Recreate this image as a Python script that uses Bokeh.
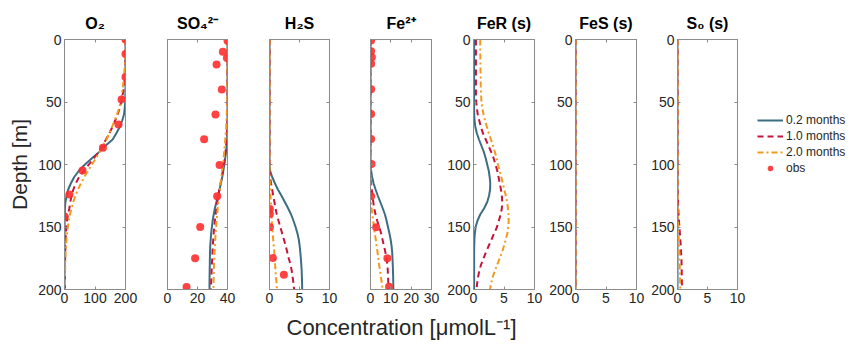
from bokeh.plotting import figure
from bokeh.layouts import row, column
from bokeh.models import Range1d, FixedTicker, LinearAxis, Legend, LegendItem, Label
from bokeh.embed import file_html
from bokeh.resources import INLINE

# ---------------- data ----------------
depth = list(range(0, 205, 5))  # 0..200 m, 41 levels

# O2
o2_02 = [200, 200, 200, 200, 200, 200, 200, 200, 200, 199.5, 199, 197.5, 195, 189, 181, 170, 158, 134,
         114, 90, 67, 47, 32, 21, 12, 7, 3, 1.5, 1, 0.5, 0.3, 0.3, 0.3, 0.3, 0.3, 0.3, 0.3, 0.3, 0.3, 0.3, 0.3]
o2_10 = [200, 200, 200, 200, 199.5, 199, 198, 196.5, 194, 190, 186, 181, 174, 166, 157, 147, 136, 124,
         112, 96, 80, 63, 48, 37, 29, 23, 19, 16, 11, 8, 6, 4.5, 3.5, 3, 2.5, 2, 1.8, 1.5, 1.3, 1.2, 1]
o2_20 = [200, 200, 200, 199, 198, 196.5, 195, 193, 190, 188, 185, 179, 172, 164, 156, 147, 138, 126,
         115, 103, 90, 77, 65, 54, 44, 36, 29, 23, 18, 14, 11, 8.5, 6.5, 5, 4, 3, 2.5, 2, 1.7, 1.4, 1.2]
o2_obs_x = [200, 200, 200, 187, 177, 126, 59, 16, 0]
o2_obs_z = [0, 11.5, 30, 48, 68, 86.5, 104.8, 124, 141.5]

# SO4 2-
so4_02 = [40, 40, 40, 40, 40, 40, 40, 40, 40, 40, 40, 40, 40, 40, 40, 39.9, 39.7, 39.4, 39, 38.5, 37.9,
          37.2, 36.5, 35.6, 34.7, 33.7, 32.6, 31.6, 30.8, 30.1, 29.6, 29.1, 28.8, 28.5, 28.35, 28.25,
          28.2, 28.1, 28.05, 28.0, 28.0]
so4_10 = [40, 40, 40, 40, 40, 40, 40, 40, 40, 40, 40, 40, 40, 39.9, 39.8, 39.6, 39.4, 39.1, 38.7, 38.2,
          37.6, 36.9, 36.2, 35.4, 34.6, 33.9, 33.2, 32.6, 32.1, 31.6, 31.2, 30.8, 30.5, 30.2, 30.0, 29.8,
          29.6, 29.4, 29.3, 29.1, 29.0]
so4_20 = [40, 40, 40, 40, 40, 40, 40, 40, 40, 39.9, 39.8, 39.7, 39.5, 39.3, 39.1, 38.8, 38.5, 38.2, 37.8,
          37.4, 36.9, 36.4, 35.9, 35.4, 34.9, 34.4, 33.9, 33.5, 33.1, 32.7, 32.4, 32.1, 31.8, 31.6, 31.4,
          31.2, 31.0, 30.9, 30.8, 30.7, 30.6]
so4_obs_x = [40, 36.9, 39.6, 32.7, 36.2, 32, 24.4, 34.7, 33.1, 21.8, 18.4, 12.7]
so4_obs_z = [1, 9.7, 14.8, 19.9, 40, 60, 79.7, 100.4, 125.4, 150, 175, 198]

# H2S
h2s_02 = [0] * 21 + [0.1, 0.45, 0.9, 1.4, 2.0, 2.55, 3.1, 3.6, 4.0, 4.35, 4.65, 4.88, 5.02, 5.13, 5.22,
                     5.3, 5.36, 5.4, 5.43, 5.45]
h2s_10 = [0] * 22 + [0.1, 0.25, 0.45, 0.62, 0.82, 1.0, 1.22, 1.5, 1.8, 2.1, 2.4, 2.7, 2.95, 3.2, 3.5,
                     3.7, 3.85, 4.0, 4.1]
h2s_20 = [0] * 23 + [0.08, 0.13, 0.17, 0.22, 0.27, 0.32, 0.38, 0.45, 0.53, 0.62, 0.7, 0.8, 0.87, 0.93,
                     1.0, 1.08, 1.17, 1.24]
h2s_obs_x = [0.06, 0.06, 0.06, 0.56, 2.4]
h2s_obs_z = [135.5, 139.5, 150.2, 174.8, 188.2]

# Fe 2+
fe2_02 = [0] * 21 + [0.3, 0.8, 1.5, 2.5, 3.6, 4.8, 6.0, 7.1, 7.9, 8.6, 9.3, 9.9, 10.35, 10.65, 10.8,
                     10.95, 11.05, 11.15, 11.2, 11.25]
fe2_10 = [0] * 23 + [0.3, 0.6, 1.0, 1.35, 1.8, 2.5, 3.3, 4.3, 5.2, 5.9, 6.6, 7.3, 7.8, 8.3, 8.5, 8.65,
                     8.75, 8.8]
fe2_20 = [0] * 25 + [0.1, 0.3, 0.55, 0.9, 1.3, 1.7, 2.1, 2.6, 3.0, 3.45, 3.85, 4.2, 4.7, 5.1, 5.6, 6.0]
fe2_obs_x = [0.3, 0.3, 0.65, 0.3, 0.3, 0.3, 0.3, 0.5, 0.3, 2.8, 8.3, 9.1]
fe2_obs_z = [0.8, 9.4, 14.2, 19.3, 39.7, 59.5, 79.6, 99.5, 125.4, 150.2, 175, 197.8]

# FeR (s)
fer_02 = [0.1] * 12 + [0.12, 0.18, 0.3, 0.55, 0.9, 1.3, 1.7, 2.0, 2.25, 2.5, 2.65, 2.75, 2.72, 2.55, 2.25,
                       1.75, 1.1, 0.65, 0.35, 0.22, 0.15, 0.12, 0.1, 0.1, 0.1, 0.1, 0.1, 0.1, 0.1]
fer_10 = [0.4] * 10 + [0.45, 0.55, 0.7, 0.95, 1.2, 1.55, 2.0, 2.45, 2.9, 3.3, 3.6, 3.9, 4.1, 4.3, 4.5,
                       4.65, 4.7, 4.65, 4.45, 4.15, 3.85, 3.4, 2.95, 2.5, 2.05, 1.65, 1.25, 0.95, 0.75, 0.6,
                       0.5]
fer_20 = [1.1, 1.1, 1.1, 1.12, 1.14, 1.15, 1.17, 1.18, 1.2, 1.25, 1.3, 1.45, 1.65, 1.9, 2.2, 2.5, 2.86,
          3.2, 3.5, 3.8, 4.0, 4.3, 4.55, 4.8, 5.05, 5.3, 5.5, 5.65, 5.75, 5.77, 5.7, 5.55, 5.3, 5.0, 4.7,
          4.3, 3.9, 3.5, 3.15, 2.9, 2.7]

# FeS (s)
fes_02 = [0] * 41
fes_10 = [0] * 41
fes_20 = [0] * 41

# S0 (s)
s0_02 = [0] * 41
s0_10 = [0] * 25 + [0.03, 0.08, 0.13, 0.18, 0.24, 0.32, 0.4, 0.47, 0.54, 0.6, 0.65, 0.68, 0.7, 0.72,
                    0.73, 0.74]
s0_20 = [0] * 27 + [0.03, 0.06, 0.09, 0.13, 0.17, 0.21, 0.25, 0.29, 0.33, 0.36, 0.39, 0.42, 0.44, 0.46]

titles = ["O\u2082", "SO\u2084\u00b2\u207b", "H\u2082S", "Fe\u00b2\u207a", "FeR (s)", "FeS (s)", "S\u2080 (s)"]
xmaxs = [200, 40, 10, 30, 10, 10, 10]
xticks = [[0, 100, 200], [0, 20, 40], [0, 5, 10], [0, 10, 20, 30], [0, 5, 10], [0, 5, 10], [0, 5, 10]]
yticks = [0, 50, 100, 150, 200]
series_labels = ["0.2 months", "1.0 months", "2.0 months", "obs"]
x_label = "Concentration [\u03bcmolL\u207b\u00b9]"

models = [(o2_02, o2_10, o2_20), (so4_02, so4_10, so4_20), (h2s_02, h2s_10, h2s_20),
          (fe2_02, fe2_10, fe2_20), (fer_02, fer_10, fer_20), (fes_02, fes_10, fes_20),
          (s0_02, s0_10, s0_20)]
observations = [(o2_obs_x, o2_obs_z), (so4_obs_x, so4_obs_z), (h2s_obs_x, h2s_obs_z),
                (fe2_obs_x, fe2_obs_z), None, None, None]

# ---------------- layout / style ----------------
show_ylabels = [True, False, False, False, True, True, True]
fig_w = [146, 102, 102, 90, 104, 103, 100]
border_l = [64, 21, 21, 20, 33, 31, 30]
border_r = [21, 21, 21, 9, 10, 11, 10]
LEG_W = 853 - sum(fig_w)
TOP = 39
FRAME_H = 250
BOTTOM = 22
PANEL_H = TOP + FRAME_H + BOTTOM
LABEL_H = 348 - PANEL_H

TEAL = "#3d6d82"
CRIMSON = "#c8143c"
ORANGE = "#f39a1e"
OBS = "#ff2e2e"
AXC = "#8c8c8c"
TXT = "#262626"
FONT = "Liberation Sans"

LINE_STYLES = [dict(line_color=TEAL, line_width=2),
               dict(line_color=CRIMSON, line_width=2, line_dash="6 4"),
               dict(line_color=ORANGE, line_width=2, line_dash="6 3 2 3")]
OBS_STYLE = dict(size=8, fill_color=OBS, line_color=None, fill_alpha=0.9)


def style_axis(ax, ticks, labels):
    ax.ticker = FixedTicker(ticks=ticks)
    ax.major_tick_in = 3
    ax.major_tick_out = 0
    ax.minor_tick_line_color = None
    ax.axis_line_color = AXC
    ax.major_tick_line_color = AXC
    ax.major_label_text_font = FONT
    if labels:
        ax.major_label_text_font_size = "14px"
        ax.major_label_text_color = TXT
        ax.major_label_standoff = 3
    else:
        ax.major_label_text_font_size = "1px"
        ax.major_label_text_color = None
        ax.major_label_standoff = 0


panels = []
for i in range(7):
    p = figure(width=fig_w[i], height=PANEL_H,
               x_range=Range1d(0, xmaxs[i]), y_range=Range1d(200, 0),
               output_backend="svg", toolbar_location=None,
               min_border_left=border_l[i], min_border_right=border_r[i],
               min_border_top=TOP, min_border_bottom=BOTTOM)
    p.grid.visible = False
    p.outline_line_color = AXC
    p.background_fill_color = "white"
    p.border_fill_color = "white"
    p.title.text = titles[i]
    p.title.align = "center"
    p.title.text_font = FONT
    p.title.text_font_size = "16px"
    p.title.text_font_style = "bold"
    p.title.text_color = "#000000"
    p.title.standoff = 15

    style_axis(p.xaxis[0], xticks[i], True)
    style_axis(p.yaxis[0], yticks, show_ylabels[i])
    top_ax = LinearAxis()
    style_axis(top_ax, xticks[i], False)
    p.add_layout(top_ax, "above")
    right_ax = LinearAxis()
    style_axis(right_ax, yticks, False)
    p.add_layout(right_ax, "right")

    if i == 0:
        p.yaxis[0].axis_label = "Depth [m]"
        p.yaxis[0].axis_label_text_font = FONT
        p.yaxis[0].axis_label_text_font_size = "21px"
        p.yaxis[0].axis_label_text_font_style = "normal"
        p.yaxis[0].axis_label_text_color = TXT
        p.yaxis[0].axis_label_standoff = 4

    for vals, st in zip(models[i], LINE_STYLES):
        p.line(vals, depth, **st)
    if observations[i] is not None:
        ox, oz = observations[i]
        p.scatter(ox, oz, **OBS_STYLE)
    panels.append(p)

# legend panel (to the right of the last axes); its proxy renderers are hidden,
# the legend shows their styles
leg = figure(width=LEG_W, height=PANEL_H, x_range=Range1d(0, 1), y_range=Range1d(0, 1),
             x_axis_type=None, y_axis_type=None, output_backend="svg", toolbar_location=None,
             title=None, min_border=0)
leg.grid.visible = False
leg.outline_line_color = None
rends = [leg.line(vals, depth, visible=False, **st) for vals, st in zip(models[6], LINE_STYLES)]
rends.append(leg.scatter(fe2_obs_x, fe2_obs_z, visible=False, **OBS_STYLE))
legend = Legend(items=[LegendItem(label=lbl, renderers=[r]) for lbl, r in zip(series_labels, rends)],
                location=(10, PANEL_H - 197))
legend.label_text_font = FONT
legend.label_text_font_size = "12px"
legend.label_text_color = TXT
legend.glyph_width = 26
legend.glyph_height = 14
legend.label_height = 14
legend.label_standoff = 3
legend.spacing = 2
legend.padding = 0
legend.margin = 0
legend.border_line_color = None
legend.background_fill_alpha = 0
legend.inactive_fill_alpha = 0
leg.add_layout(legend)
panels.append(leg)

# x-axis label shared by all panels
lab = figure(width=853, height=LABEL_H, x_range=Range1d(0, 853), y_range=Range1d(0, LABEL_H),
             x_axis_type=None, y_axis_type=None, output_backend="svg", toolbar_location=None,
             title=None, min_border=0)
lab.grid.visible = False
lab.outline_line_color = None
lab.add_layout(Label(x=401, y=LABEL_H - 16, text=x_label, text_align="center",
                     text_baseline="alphabetic", text_font=FONT, text_font_size="22px",
                     text_color=TXT))

layout = column(row(*panels, spacing=0), lab, spacing=0)

open("out.html", "w").write(file_html(layout, INLINE))
